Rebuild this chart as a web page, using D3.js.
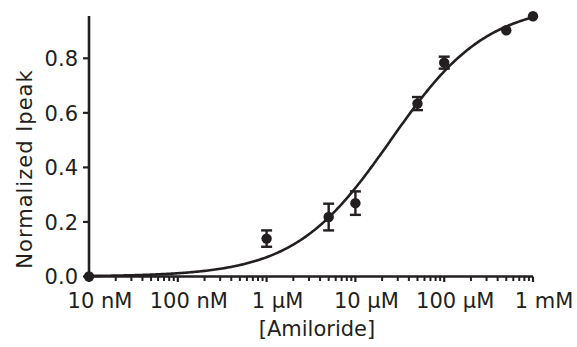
<!DOCTYPE html>
<html>
<head>
<meta charset="utf-8">
<script src="https://cdn.jsdelivr.net/npm/d3@7"></script>
<style>
  body { margin: 0; background: #fff; }
  svg text { font-family: "DejaVu Sans", sans-serif; fill: #231f20; }
</style>
</head>
<body>
<div id="chart"></div>
<script>
// concentrations (M) and normalized Ipeak
const conc = [1e-8, 1e-6, 5e-6, 1e-5, 5e-5, 1e-4, 5e-4, 1e-3];
const ipeak = [0.0, 0.139, 0.218, 0.269, 0.634, 0.784, 0.903, 0.954];
const sem = [0, 0.03, 0.049, 0.043, 0.024, 0.022, 0, 0];

const xTickValues = [1e-8, 1e-7, 1e-6, 1e-5, 1e-4, 1e-3];
const xTickLabels = ['10 nM', '100 nM', '1 µM', '10 µM', '100 µM', '1 mM'];
const yTickValues = [0, 0.2, 0.4, 0.6, 0.8];

// fitted dose-response curve
const fitTop = 1.0, fitBottom = 0.0, fitEC50 = 25e-6, fitHill = 0.8;

const width = 577, height = 347;
const ink = '#231f20';

const svg = d3.select('#chart').append('svg')
  .attr('width', width).attr('height', height);

const x = d3.scaleLog().domain([1e-8, 1e-3]).range([89, 533]);
const y = d3.scaleLinear().domain([0, 0.8]).range([276.5, 58.3]);
const yMax = 0.955;

// axis lines
svg.append('line')
  .attr('x1', x(1e-8)).attr('x2', x(1e-3))
  .attr('y1', y(0)).attr('y2', y(0))
  .attr('stroke', ink).attr('stroke-width', 2.6);
svg.append('line')
  .attr('x1', x(1e-8)).attr('x2', x(1e-8))
  .attr('y1', y(0)).attr('y2', y(yMax))
  .attr('stroke', ink).attr('stroke-width', 2.6);

// x ticks, minor and major
let minor = [];
for (let e = -8; e < -3; e++) {
  for (let m = 2; m <= 9; m++) minor.push(m * Math.pow(10, e));
}
svg.append('g').selectAll('line').data(minor).enter().append('line')
  .attr('x1', d => x(d)).attr('x2', d => x(d))
  .attr('y1', y(0)).attr('y2', y(0) + 4.5)
  .attr('stroke', ink).attr('stroke-width', 2);
svg.append('g').selectAll('line').data(xTickValues).enter().append('line')
  .attr('x1', d => x(d)).attr('x2', d => x(d))
  .attr('y1', y(0)).attr('y2', y(0) + 5.5)
  .attr('stroke', ink).attr('stroke-width', 2.2);
svg.append('g').selectAll('text').data(xTickValues).enter().append('text')
  .attr('x', d => x(d) + 11)
  .attr('y', 307.5)
  .attr('text-anchor', 'middle')
  .attr('font-size', 21)
  .text((d, i) => xTickLabels[i]);

// y ticks
svg.append('g').selectAll('line').data(yTickValues).enter().append('line')
  .attr('x1', x(1e-8) - 6).attr('x2', x(1e-8))
  .attr('y1', d => y(d)).attr('y2', d => y(d))
  .attr('stroke', ink).attr('stroke-width', 2.2);
svg.append('g').selectAll('text').data(yTickValues).enter().append('text')
  .attr('x', 78)
  .attr('y', d => y(d) + 7.7)
  .attr('text-anchor', 'end')
  .attr('font-size', 21)
  .text(d => d3.format('.1f')(d));

// axis titles
svg.append('text')
  .attr('transform', 'translate(31.5,169) rotate(-90)')
  .attr('text-anchor', 'middle')
  .attr('font-size', 21)
  .attr('letter-spacing', 1)
  .text('Normalized Ipeak');
svg.append('text')
  .attr('x', 317).attr('y', 336)
  .attr('text-anchor', 'middle')
  .attr('font-size', 21)
  .text('[Amiloride]');

// fit curve
const hill = c => fitBottom + (fitTop - fitBottom) / (1 + Math.pow(fitEC50 / c, fitHill));
const curveX = d3.range(-8, -3 + 0.001, 0.02).map(e => Math.pow(10, e));
const line = d3.line().x(d => x(d)).y(d => y(hill(d))).curve(d3.curveMonotoneX);
svg.append('path')
  .datum(curveX)
  .attr('d', line)
  .attr('fill', 'none')
  .attr('stroke', ink)
  .attr('stroke-width', 2.6);

// error bars
const pts = conc.map((c, i) => ({ c: c, v: ipeak[i], e: sem[i] }));
const eb = svg.append('g').selectAll('g').data(pts.filter(d => d.e > 0)).enter().append('g')
  .attr('stroke', ink).attr('stroke-width', 2.4);
eb.append('line')
  .attr('x1', d => x(d.c)).attr('x2', d => x(d.c))
  .attr('y1', d => y(d.v - d.e)).attr('y2', d => y(d.v + d.e));
eb.append('line')
  .attr('x1', d => x(d.c) - 5.5).attr('x2', d => x(d.c) + 5.5)
  .attr('y1', d => y(d.v + d.e)).attr('y2', d => y(d.v + d.e));
eb.append('line')
  .attr('x1', d => x(d.c) - 5.5).attr('x2', d => x(d.c) + 5.5)
  .attr('y1', d => y(d.v - d.e)).attr('y2', d => y(d.v - d.e));

// points
svg.append('g').selectAll('circle').data(pts).enter().append('circle')
  .attr('cx', d => x(d.c))
  .attr('cy', d => y(d.v))
  .attr('r', 5.2)
  .attr('fill', ink);
</script>
</body>
</html>
